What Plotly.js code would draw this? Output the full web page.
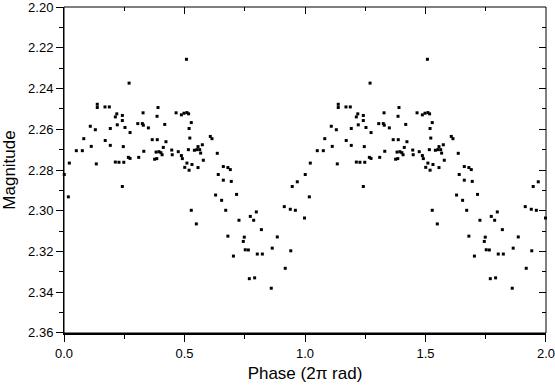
<!DOCTYPE html>
<html>
<head>
<meta charset="utf-8">
<script src="https://cdn.plot.ly/plotly-3.0.1.min.js"></script>
<style>
  html, body { margin: 0; padding: 0; background: #fff; }
  #chart { width: 555px; height: 385px; }
</style>
</head>
<body>
<div id="chart"></div>
<script>
var phase = [
  0.270, 0.138, 0.138, 0.170, 0.188, 0.390, 0.219, 0.213, 0.242, 0.242,
  0.221, 0.328, 0.386, 0.465, 0.487, 0.498, 0.510, 0.517, 0.109, 0.130,
  0.192, 0.253, 0.274, 0.306, 0.325, 0.329, 0.350, 0.418, 0.519, 0.082,
  0.171, 0.113, 0.192, 0.246, 0.366, 0.387, 0.423, 0.051, 0.076, 0.331,
  0.382, 0.394, 0.402, 0.407, 0.412, 0.447, 0.474, 0.487, 0.491, 0.449,
  0.516, 0.522, 0.022, 0.134, 0.213, 0.228, 0.248, 0.267, 0.274, 0.310,
  0.376, 0.385, 0.510, 0.501, 0.519, 0.001, 0.242, 0.018,
  0.508, 0.528, 0.607, 0.614, 0.574, 0.556, 0.563, 0.567, 0.551, 0.541,
  0.578, 0.636, 0.531, 0.556, 0.661, 0.680, 0.690, 0.640, 0.661, 0.694,
  0.947, 0.968,
  0.629, 0.654, 0.716, 0.528, 0.549, 0.671, 0.726, 0.773, 0.787, 0.798,
  0.819, 0.680, 0.748, 0.744, 0.752, 0.765, 0.703, 0.802, 0.823, 0.885,
  0.864, 0.941, 0.918, 0.769, 0.791, 0.860, 0.914, 0.939, 0.960, 0.998
];
var magnitude = [
  2.2373, 2.2477, 2.2493, 2.2490, 2.2490, 2.2493, 2.2524, 2.2539, 2.2532, 2.2557,
  2.2578, 2.2519, 2.2536, 2.2519, 2.2529, 2.2521, 2.2518, 2.2524, 2.2585, 2.2602,
  2.2596, 2.2591, 2.2616, 2.2572, 2.2572, 2.2580, 2.2593, 2.2576, 2.2596, 2.2646,
  2.2655, 2.2684, 2.2679, 2.2685, 2.2651, 2.2651, 2.2661, 2.2705, 2.2705, 2.2708,
  2.2712, 2.2710, 2.2715, 2.2725, 2.2689, 2.2702, 2.2710, 2.2729, 2.2744, 2.2725,
  2.2700, 2.2643, 2.2766, 2.2770, 2.2761, 2.2762, 2.2762, 2.2738, 2.2743, 2.2738,
  2.2747, 2.2744, 2.2766, 2.2787, 2.2801, 2.2822, 2.2881, 2.2932,
  2.2256, 2.2567, 2.2635, 2.2646, 2.2676, 2.2685, 2.2700, 2.2717, 2.2700, 2.2703,
  2.2752, 2.2718, 2.2773, 2.2788, 2.2783, 2.2788, 2.2798, 2.2822, 2.2850, 2.2856,
  2.2881, 2.2858,
  2.2923, 2.2949, 2.2920, 2.2998, 2.3065, 2.2998, 2.3047, 2.3028, 2.3047, 2.3006,
  2.3093, 2.3125, 2.3130, 2.3151, 2.3192, 2.3193, 2.3223, 2.3213, 2.3213, 2.3129,
  2.3184, 2.3197, 2.3283, 2.3334, 2.3330, 2.3381, 2.2980, 2.2993, 2.2998, 2.3036
];

var xRange = [-0.0001, 2.0001];
var yRange = [2.3601, 2.1999];

var dot = { size: 3, symbol: 'square', color: '#000' };

// first cycle on the bottom/left axes
var cycle1 = {
  x: phase,
  y: magnitude,
  mode: 'markers',
  type: 'scatter',
  marker: dot,
  cliponaxis: false
};

// same cycle one phase later, on the top/right axes (same ranges)
var cycle2 = {
  x: phase.map(function(p) { return p + 1; }),
  y: magnitude,
  xaxis: 'x2',
  yaxis: 'y2',
  mode: 'markers',
  type: 'scatter',
  marker: dot,
  cliponaxis: false
};

var fnt = { family: 'Liberation Sans, Arial, sans-serif', size: 13, color: '#000' };
var titleFnt = { family: 'Liberation Sans, Arial, sans-serif', size: 17, color: '#000' };

var layout = {
  width: 555,
  height: 385,
  margin: { l: 64, r: 9, t: 7, b: 52 },
  paper_bgcolor: '#fff',
  plot_bgcolor: '#fff',
  showlegend: false,
  font: fnt,
  xaxis: {
    range: xRange,
    tick0: 0,
    dtick: 0.5,
    tickformat: '.1f',
    ticks: 'outside',
    ticklen: 7,
    tickcolor: '#000',
    ticklabeloverflow: 'allow',
    showgrid: false,
    zeroline: false,
    showline: true,
    linecolor: '#000',
    linewidth: 2,
    tickfont: fnt,
    minor: { dtick: 0.25, ticks: 'outside', ticklen: 4, tickcolor: '#000', showgrid: false },
    title: { text: 'Phase (2\u03c0 rad)', font: titleFnt, standoff: 8 }
  },
  yaxis: {
    range: yRange,
    tick0: 2.2,
    dtick: 0.02,
    tickformat: '.2f',
    ticks: 'outside',
    ticklen: 7,
    tickcolor: '#000',
    ticklabeloverflow: 'allow',
    showgrid: false,
    zeroline: false,
    showline: true,
    linecolor: '#000',
    linewidth: 1,
    tickfont: fnt,
    minor: { dtick: 0.01, ticks: 'outside', ticklen: 4, tickcolor: '#000', showgrid: false },
    title: { text: 'Magnitude', font: titleFnt, standoff: 8 }
  },
  xaxis2: {
    overlaying: 'x',
    side: 'top',
    range: xRange,
    tick0: 0,
    dtick: 0.5,
    ticks: 'inside',
    ticklen: 7,
    tickcolor: '#000',
    showticklabels: false,
    showgrid: false,
    zeroline: false,
    showline: false,
    minor: { dtick: 0.25, ticks: 'inside', ticklen: 4, tickcolor: '#000', showgrid: false }
  },
  yaxis2: {
    overlaying: 'y',
    side: 'right',
    range: yRange,
    tick0: 2.2,
    dtick: 0.02,
    ticks: 'inside',
    ticklen: 7,
    tickcolor: '#000',
    showticklabels: false,
    showgrid: false,
    zeroline: false,
    showline: false,
    minor: { dtick: 0.01, ticks: 'inside', ticklen: 4, tickcolor: '#000', showgrid: false }
  },
  // plot frame
  shapes: [{
    type: 'rect', xref: 'paper', yref: 'paper', x0: 0, x1: 1, y0: 0, y1: 1,
    line: { color: '#000', width: 1 }, layer: 'above'
  }]
};

var config = { responsive: false, displaylogo: false, displayModeBar: false, staticPlot: true };

Plotly.newPlot('chart', [cycle1, cycle2], layout, config);
</script>
</body>
</html>
